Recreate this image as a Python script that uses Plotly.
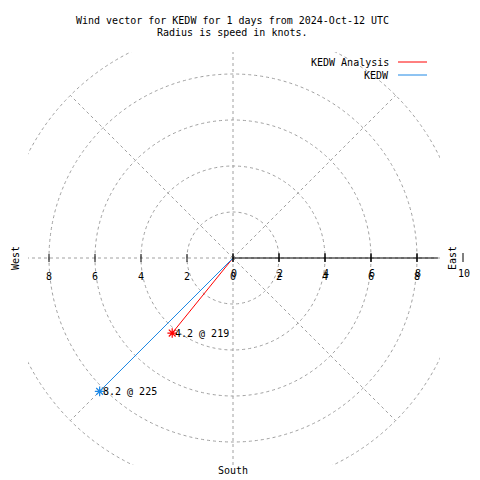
import numpy as np
import plotly.graph_objects as go

# ---- data ----
series_names = ["KEDW Analysis", "KEDW"]
speeds_kt = [4.2, 8.2]
directions_deg = [219, 225]
series_colors = ["#ff0000", "#1e88e5"]
point_labels = ["4.2 @ 219", "8.2 @ 225"]

grid_radii = [2, 4, 6, 8, 10]
grid_angles = [0, 45, 90, 135, 180, 225, 270, 315]
x_tick_vals = [-8, -6, -4, -2, 0, 2, 4, 6, 8]
r_tick_vals = [0, 2, 4, 6, 8, 10]
r_axis_max = 8.9

title_lines = ["Wind vector for KEDW for 1 days from 2024-Oct-12 UTC",
               "Radius is speed in knots."]

# ---- layout geometry ----
W = H = 480
ml, mr, mt, mb = 28, 40, 52, 15
pw, ph = W - ml - mr, H - mt - mb
S = 23.0  # px per knot
cx_px, cy_px = 233, 258
xr = [-(cx_px - ml) / S, (W - mr - cx_px) / S]
yr = [-(H - mb - cy_px) / S, (cy_px - mt) / S]

def xpaper(v):
    return (v - xr[0]) / (xr[1] - xr[0])

def ypaper(v):
    return (v - yr[0]) / (yr[1] - yr[0])

def px2xp(px):
    return (px - ml) / pw

def px2yp(py):
    return (H - mb - py) / ph

FONT = dict(family="DejaVu Sans Mono", size=10, color="black")
GRID = dict(color="#a0a0a0", width=1, dash="3px,3px")

fig = go.Figure()
shapes = []
ann = []

def add_ann(**kw):
    d = dict(showarrow=False, font=FONT, xanchor="center", yanchor="middle")
    d.update(kw)
    ann.append(d)

# grid circles
for r in grid_radii:
    shapes.append(dict(type="circle", xref="x", yref="y", x0=-r, x1=r, y0=-r, y1=r,
                       line=GRID, layer="below"))
# radial grid lines
for a in grid_angles:
    t = np.deg2rad(a)
    shapes.append(dict(type="line", xref="x", yref="y", x0=0, y0=0,
                       x1=10 * np.cos(t), y1=10 * np.sin(t), line=GRID, layer="below"))
# r axis solid
shapes.append(dict(type="line", xref="x", yref="y", x0=0, y0=0, x1=r_axis_max, y1=0,
                   line=dict(color="black", width=1)))
y0p = ypaper(0)
# tick marks
for t in x_tick_vals:
    shapes.append(dict(type="line", xref="paper", yref="paper", ysizemode="pixel",
                       yanchor=y0p, x0=xpaper(t), x1=xpaper(t), y0=-4, y1=4,
                       line=dict(color="black", width=1)))
for t in r_tick_vals:
    shapes.append(dict(type="line", xref="paper", yref="paper", ysizemode="pixel",
                       yanchor=y0p, x0=xpaper(t), x1=xpaper(t), y0=-4, y1=5,
                       line=dict(color="black", width=1)))

# tick labels
for t in x_tick_vals:
    add_ann(x=xpaper(t), y=0, xref="paper", yref="y", text=str(abs(t)), yshift=-18)
for t in r_tick_vals:
    add_ann(x=xpaper(t), y=0, xref="paper", yref="y", text=str(t), yshift=-15, xshift=1)

# direction labels
add_ann(x=px2xp(15), y=0, xref="paper", yref="y", text="West", textangle=-90)
add_ann(x=px2xp(452), y=0, xref="paper", yref="y", text="East", textangle=-90)
add_ann(x=0, y=px2yp(471), xref="x", yref="paper", text="South")

# title
for i, line in enumerate(title_lines):
    add_ann(x=px2xp(232), y=px2yp(20 + 13 * i), xref="paper", yref="paper", text=line)

# wind vectors
for name, spd, d, col, lab in zip(series_names, speeds_kt, directions_deg, series_colors, point_labels):
    th = np.deg2rad(d)
    xe, ye = spd * np.sin(th), spd * np.cos(th)
    fig.add_trace(go.Scatter(x=[0, xe], y=[0, ye], mode="lines", name=name,
                             line=dict(color=col, width=1), showlegend=False,
                             hoverinfo="skip"))
    fig.add_trace(go.Scatter(x=[xe], y=[ye], mode="markers", name=name,
                             marker=dict(symbol="asterisk-open", size=8, color=col,
                                         line=dict(color=col, width=1.2)),
                             showlegend=False))
    add_ann(x=xe, y=ye, xref="x", yref="y", text=lab, xanchor="left", xshift=1)

# manual legend
for i, (name, col) in enumerate(zip(series_names, series_colors)):
    py = 62 + 13 * i
    add_ann(x=px2xp(391), y=px2yp(py), xref="paper", yref="paper", text=name,
            xanchor="right")
    shapes.append(dict(type="line", xref="paper", yref="paper",
                       x0=px2xp(398), x1=px2xp(427), y0=px2yp(py), y1=px2yp(py),
                       line=dict(color=col, width=1)))

fig.update_layout(
    width=W, height=H,
    margin=dict(l=ml, r=mr, t=mt, b=mb, pad=0),
    paper_bgcolor="white", plot_bgcolor="white",
    xaxis=dict(range=xr, visible=False, showgrid=False, zeroline=False),
    yaxis=dict(range=yr, visible=False, showgrid=False, zeroline=False),
    shapes=shapes, annotations=ann, showlegend=False,
)

fig.write_html("out.html", config={"displayModeBar": False},
               post_script="document.body.style.margin='0px';")
